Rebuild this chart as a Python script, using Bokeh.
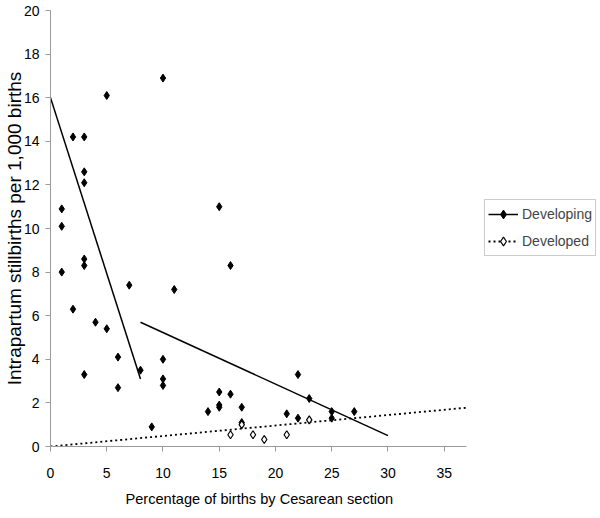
from bokeh.plotting import figure
from bokeh.models import Legend, LegendItem, FixedTicker, Title
from bokeh.embed import file_html
from bokeh.resources import INLINE

# Developing countries (filled diamonds)
developing_x = [1, 1, 1, 2, 2, 3, 3, 3, 3, 3, 3, 4, 5, 5, 6, 6, 7, 8, 9,
                10, 10, 10, 10, 11, 14, 15, 15, 15, 15, 16, 16, 17, 17,
                21, 22, 22, 23, 25, 25, 27]
developing_y = [10.9, 10.1, 8.0, 14.2, 6.3, 14.2, 12.6, 12.1, 8.6, 8.3, 3.3,
                5.7, 16.1, 5.4, 4.1, 2.7, 7.4, 3.5, 0.9,
                16.9, 4.0, 3.1, 2.8, 7.2, 1.6, 11.0, 2.5, 1.9, 1.8, 8.3, 2.4,
                1.8, 1.1, 1.5, 3.3, 1.3, 2.2, 1.6, 1.3, 1.6]

# Developed countries (open diamonds)
developed_x = [16, 17, 18, 19, 21, 23]
developed_y = [0.54, 1.0, 0.54, 0.32, 0.54, 1.22]

# Trend lines (end points)
developing_trend_x = [[0, 8], [8, 30]]
developing_trend_y = [[16.0, 3.1], [5.7, 0.5]]
developed_trend_x = [0, 37]
developed_trend_y = [0.0, 1.78]

x_ticks = [0, 5, 10, 15, 20, 25, 30, 35]
y_ticks = [0, 2, 4, 6, 8, 10, 12, 14, 16, 18, 20]
x_axis_end = 37

x_label = "Percentage of births by Cesarean section"
y_label = "Intrapartum stillbirths per 1,000 births"

FONT = "Liberation Sans"

W, H = 600, 518
LEFT, RIGHT, TOP, BOTTOM = 49, 0, 10, 72
AXIS_RIGHT_PX = 466
# frame extends to the right edge so the legend (drawn in the frame) is not clipped;
# the axis line itself is bounded to 0..37
px_per_unit = (AXIS_RIGHT_PX - LEFT) / x_axis_end
x_end = (W - LEFT - RIGHT) / px_per_unit

p = figure(width=W, height=H, x_range=(0, x_end), y_range=(0, 20),
           output_backend="svg", toolbar_location=None,
           min_border_left=LEFT, min_border_right=RIGHT,
           min_border_top=TOP, min_border_bottom=BOTTOM)
p.outline_line_color = None
p.xgrid.visible = False
p.ygrid.visible = False
p.background_fill_color = "white"
p.border_fill_color = "white"

r_trend1 = p.multi_line(developing_trend_x, developing_trend_y,
                        line_color="black", line_width=1.5)
r_trend2 = p.line(developed_trend_x, developed_trend_y, line_color="black",
                  line_width=1.8, line_dash="2 3")
r_dev = p.scatter(developing_x, developing_y, marker="diamond", size=8,
                  fill_color="black", line_color="black", line_width=1)
r_ded = p.scatter(developed_x, developed_y, marker="diamond", size=8,
                  fill_color="white", line_color="black", line_width=1.2)

for ax in (p.xaxis[0], p.yaxis[0]):
    ax.axis_line_color = "#9a9a9a"
    ax.major_tick_line_color = "#9a9a9a"
    ax.major_tick_out = 5
    ax.major_tick_in = 0
    ax.minor_tick_line_color = None
    ax.major_label_text_font = FONT
    ax.major_label_text_font_size = "14px"
    ax.major_label_text_color = "black"
    ax.axis_label_text_color = "black"
    ax.axis_label_text_font = FONT
    ax.axis_label_text_font_style = "normal"

p.xaxis.bounds = (0, x_axis_end)
p.xaxis.ticker = FixedTicker(ticks=x_ticks)
p.yaxis.ticker = FixedTicker(ticks=y_ticks)
p.yaxis.axis_label = y_label
p.yaxis.axis_label_text_font_size = "19px"
p.xaxis.major_label_standoff = 16
p.yaxis.major_label_standoff = 6
p.yaxis.axis_label_standoff = -4

# x-axis title placed under the bounded axis (0..37), not centred on the whole frame
xt = Title(text=x_label, align="left", offset=124 - LEFT,
           text_font=FONT, text_font_size="14.6px", text_font_style="normal",
           text_color="black", standoff=16)
p.add_layout(xt, "below")

legend = Legend(items=[
    LegendItem(label="Developing", renderers=[r_trend1, r_dev]),
    LegendItem(label="Developed", renderers=[r_trend2, r_ded]),
], location=(483 - LEFT, (H - BOTTOM) - 256))
legend.margin = 0
legend.padding = 3
legend.spacing = 5
legend.glyph_width = 30
legend.glyph_height = 22
legend.label_height = 22
legend.label_standoff = 4
legend.label_text_font = FONT
legend.label_text_font_size = "14px"
legend.border_line_color = "#9a9a9a"
legend.border_line_width = 1
legend.background_fill_alpha = 1
p.add_layout(legend)

open("out.html", "w").write(file_html(p, INLINE))
